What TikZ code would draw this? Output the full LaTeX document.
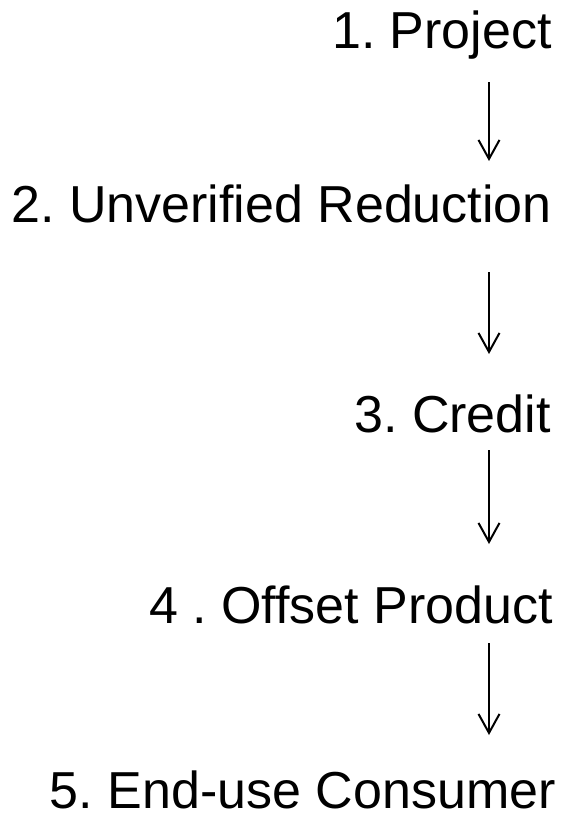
\documentclass[tikz,border=0pt]{standalone}
\usepackage{fontspec}
\setmainfont{Liberation Sans}
\usetikzlibrary{arrows.meta}
\frenchspacing
\begin{document}
\begin{tikzpicture}[x=1pt,y=-1pt,
  lbl/.style={anchor=base east,inner sep=0pt,font=\fontsize{52}{60}\selectfont\frenchspacing},
  flow/.style={line width=2pt,-{Straight Barb[length=19pt,width=21pt,line width=2pt]}}]
\useasboundingbox[fill=white] (0,0) rectangle (579,820);
\node[lbl] (n1) at (552,48) {1. Project};
\node[lbl] (n2) at (552,222) {2. Unverified Reduction};
\node[lbl] (n3) at (551,432) {3. Credit};
\node[lbl] (n4) at (553,623) {4 . Offset Product};
\node[lbl] (n5) at (556,808) {5. End-use Consumer};
\coordinate (a1s) at (489,82); \coordinate (a1e) at (489,161);
\coordinate (a2s) at (489,272); \coordinate (a2e) at (489,354);
\coordinate (a3s) at (489,450); \coordinate (a3e) at (489,544);
\coordinate (a4s) at (489,643); \coordinate (a4e) at (489,735);
\draw[flow] (a1s) -- (a1e);
\draw[flow] (a2s) -- (a2e);
\draw[flow] (a3s) -- (a3e);
\draw[flow] (a4s) -- (a4e);
\end{tikzpicture}
\end{document}
